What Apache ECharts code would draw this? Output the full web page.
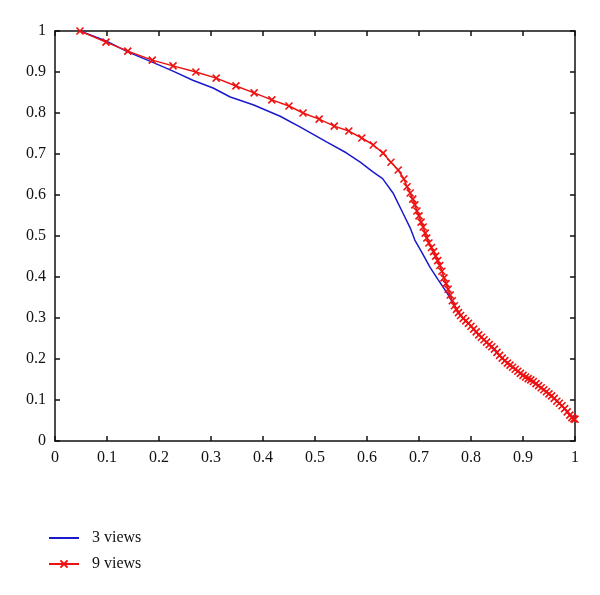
<!DOCTYPE html>
<html><head><meta charset="utf-8">
<script src="https://cdn.jsdelivr.net/npm/echarts@6/dist/echarts.min.js"></script>
<style>html,body{margin:0;padding:0;background:#fff}#c{width:600px;height:595px}</style>
</head><body><div id="c"></div>
<script>
var seriesNames = ['3 views', '9 views'];
var xTicks = [0, 0.1, 0.2, 0.3, 0.4, 0.5, 0.6, 0.7, 0.8, 0.9, 1];
var yTicks = [0, 0.1, 0.2, 0.3, 0.4, 0.5, 0.6, 0.7, 0.8, 0.9, 1];

var blueX = [0.048,0.098,0.140,0.187,0.227,0.265,0.304,0.337,0.381,0.433,0.471,0.523,0.560,0.587,0.612,0.630,0.650,0.669,0.683,0.692,0.706,0.721,0.737,0.754,0.765,0.780,0.800,0.830,0.860,0.900,0.940,0.970,1.000];
var blueY = [1.000,0.976,0.949,0.924,0.902,0.880,0.861,0.839,0.820,0.792,0.766,0.729,0.703,0.680,0.656,0.640,0.605,0.556,0.520,0.490,0.459,0.424,0.393,0.361,0.337,0.306,0.280,0.241,0.202,0.160,0.125,0.092,0.053];

var redX = [0.048,0.098,0.140,0.187,0.227,0.271,0.310,0.348,0.383,0.417,0.450,0.477,0.508,0.537,0.565,0.590,0.612,0.631,0.646,0.660,0.671,0.677,0.683,0.688,0.692,0.696,0.700,0.704,0.708,0.712,0.715,0.719,0.724,
  0.728,0.732,0.736,0.740,0.744,0.748,0.752,0.756,0.760,0.764,0.768,0.772,0.776,0.780,0.785,0.790,0.795,0.800,0.805,0.810,0.815,0.820,0.825,0.830,0.835,0.840,0.845,0.850,0.855,0.860,0.865,0.870,0.875,0.880,0.885,0.890,0.895,0.900,0.905,0.910,0.915,0.920,0.925,0.930,0.935,0.940,0.945,0.950,0.955,0.960,0.965,0.970,0.975,0.980,0.985,0.990,0.994,0.998,1.000];
var redY = [1.000,0.973,0.951,0.929,0.915,0.900,0.885,0.866,0.849,0.832,0.817,0.800,0.785,0.768,0.756,0.739,0.722,0.702,0.680,0.661,0.639,0.620,0.605,0.590,0.576,0.561,0.549,0.534,0.522,0.507,0.495,0.483,0.472,
  0.462,0.451,0.440,0.428,0.414,0.398,0.384,0.370,0.356,0.342,0.330,0.321,0.313,0.306,0.299,0.293,0.287,0.280,0.273,0.266,0.259,0.253,0.247,0.241,0.235,0.230,0.224,0.216,0.209,0.202,0.196,0.190,0.185,0.180,0.175,0.170,0.165,0.160,0.156,0.152,0.149,0.145,0.140,0.135,0.130,0.125,0.120,0.115,0.110,0.104,0.097,0.092,0.086,0.079,0.071,0.063,0.057,0.054,0.053];

function pairs(xs, ys){ return xs.map(function(x,i){ return [x, ys[i]]; }); }
var FONT = 'Liberation Serif';
var crossPath = 'path://M0,0L10,10M10,0L0,10';

function axisCommon(show){
  return {
    type:'value', min:0, max:1, interval:0.1,
    axisLine:{show:true, onZero:false, lineStyle:{color:'#111', width:1.5}},
    axisTick:{show:true, inside:true, length:5, lineStyle:{color:'#111', width:1.5}},
    splitLine:{show:false},
    axisLabel:{show:show, color:'#111', fontFamily:FONT, fontSize:16, margin:9,
      formatter:function(v){ return String(Math.round(v*10)/10); }}
  };
}
var xb = axisCommon(true); xb.position='bottom';
var xt = axisCommon(false); xt.position='top';
var yl = axisCommon(true); yl.position='left';
var yr = axisCommon(false); yr.position='right';

var chart = echarts.init(document.getElementById('c'));
chart.setOption({
  animation:false,
  backgroundColor:'#fff',
  grid:{left:55, top:31, width:520, height:410},
  xAxis:[xb, xt],
  yAxis:[yl, yr],
  legend:{
    orient:'vertical', left:48, top:530, padding:0, itemWidth:30, itemHeight:9, itemGap:10,
    textStyle:{fontFamily:FONT, fontSize:16, color:'#111', padding:[0,0,0,8]},
    data:[{name:seriesNames[0], itemStyle:{opacity:0}}, {name:seriesNames[1]}]
  },
  series:[
    {name:seriesNames[0], type:'line', data:pairs(blueX, blueY), symbol:'circle', showSymbol:false,
     lineStyle:{color:'#1a1acc', width:1.5}, itemStyle:{color:'#1a1acc'}, z:2},
    {name:seriesNames[1], type:'line', data:pairs(redX, redY), symbol:crossPath, symbolSize:7,
     showAllSymbol:true,
     lineStyle:{color:'#ee1111', width:1.5},
     itemStyle:{color:'none', borderColor:'#ee1111', borderWidth:1.6}, z:3}
  ]
});
</script></body></html>
